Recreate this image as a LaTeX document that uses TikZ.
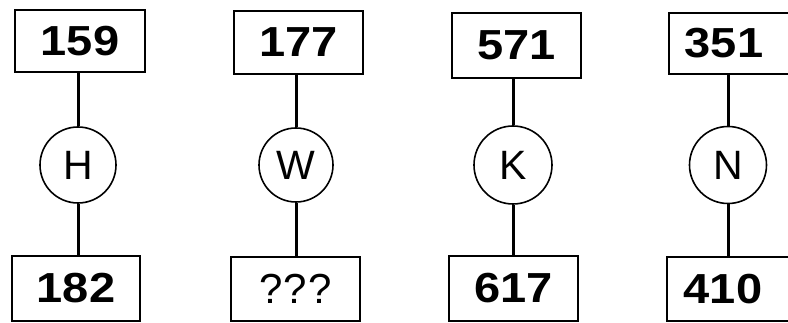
\documentclass[tikz,border=0pt]{standalone}
\usepackage{fontspec}
\setmainfont{Liberation Sans}
\newfontfamily\digitfont[FakeStretch=1.12]{Liberation Sans}
\begin{document}
\begin{tikzpicture}[x=1pt,y=-1pt,
  box/.style={draw=black, line width=2pt, inner sep=0pt, font=\digitfont\fontsize{42}{42}\selectfont\bfseries},
  ring/.style={draw=black, line width=1.6pt, circle, inner sep=0pt, font=\fontsize{41}{41}\selectfont},
  num/.style={inner sep=0pt, font=\digitfont\fontsize{42}{42}\selectfont\bfseries},
  link/.style={line width=3pt}]
\useasboundingbox (0,0) rectangle (788,323);
\clip (0,0) rectangle (788,323);
% column 1
\node[box, minimum width=130pt, minimum height=62pt] (t1) at (80,41) {159};
\node[ring, minimum size=76pt] (c1) at (78,165) {H};
\node[box, minimum width=128pt, minimum height=65pt] (b1) at (76,288.5) {182};
% column 2
\node[box, minimum width=129pt, minimum height=63pt] (t2) at (298.5,42.5) {177};
\node[ring, minimum size=74pt] (c2) at (296,165) {W};
\node[box, minimum width=129pt, minimum height=64pt, font=\fontsize{42}{42}\selectfont] (b2) at (295.5,289) {?\kern1pt?\kern1pt?};
% column 3
\node[box, minimum width=129pt, minimum height=65pt] (t3) at (516.5,45.5) {571};
\node[ring, minimum size=78pt] (c3) at (513,165) {K};
\node[box, minimum width=129pt, minimum height=65pt] (b3) at (513.5,288.5) {617};
% column 4 (cut by the right edge)
\node[box, minimum width=132pt, minimum height=61pt] (t4) at (735,43.5) {};
\node[num] (n4) at (724,43.5) {351};
\node[ring, minimum size=77pt] (c4) at (728,165) {N};
\node[box, minimum width=132pt, minimum height=64pt] (b4) at (733,289) {};
\node[num] (m4) at (723,289) {410};
% connectors
\foreach \i in {1,2,3,4}{
  \draw[link] (c\i.north) -- (c\i.north |- t\i.south);
  \draw[link] (c\i.south) -- (c\i.south |- b\i.north);
}
\end{tikzpicture}
\end{document}
